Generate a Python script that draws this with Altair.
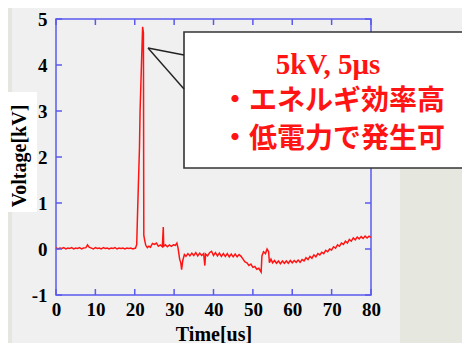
import altair as alt
import pandas as pd

# ---- data ----
TIME = [0, 0.5, 1, 1.5, 2, 2.5, 3, 3.5, 4, 4.5, 5, 5.5, 6, 6.5, 7, 7.6, 8, 8.4, 9, 9.5,
        10, 10.5, 11, 11.5, 12, 12.5, 13, 13.5, 14, 14.5, 15, 15.5, 16, 16.5, 17, 17.5,
        18, 18.5, 19, 19.5, 20.2, 20.5, 20.7, 20.9, 21.2, 21.35, 21.7, 22.0, 22.2, 22.3,
        22.5, 22.8, 23.2, 23.6, 24, 24.5, 25, 25.5, 26, 26.5, 27.0, 27.25, 27.35, 27.8,
        28.3, 28.8, 29.3, 29.8, 30.3, 30.7, 31.0, 31.4, 31.7, 31.9, 32.2, 32.6, 33, 33.5,
        34, 34.5, 35, 35.5, 36, 36.5, 37, 37.5, 37.8, 38.0, 38.5, 39, 39.5, 40, 40.5, 41,
        41.5, 42, 42.5, 43, 43.5, 44, 44.5, 45, 45.5, 46, 46.5, 47, 47.5, 48, 48.5, 49,
        49.5, 50, 50.5, 51, 51.5, 52.1, 52.3, 52.7, 53.2, 53.6, 54.0, 54.2, 54.6, 55, 55.5,
        56, 56.5, 57, 57.5, 58, 58.5, 59, 59.5, 60, 60.5, 61, 61.5, 62, 62.5, 63, 63.5, 64,
        64.5, 65, 65.5, 66, 66.5, 67, 67.5, 68, 68.5, 69, 69.5, 70, 70.5, 71, 71.5, 72,
        72.5, 73, 73.5, 74, 74.5, 75, 75.5, 76, 76.5, 77, 77.5, 78, 78.5, 79, 79.5, 80]
VOLT = [0.03, 0.0, 0.02, 0.01, 0.03, 0.0, 0.02, 0.01, 0.03, 0.0, 0.02, 0.01, 0.03, 0.0,
        0.02, 0.03, 0.09, 0.04, 0.02, 0.0, 0.03, 0.01, 0.02, 0.0, 0.03, 0.01, 0.02, 0.0,
        0.02, 0.01, 0.03, 0.0, 0.02, 0.01, 0.02, 0.0, 0.02, 0.01, 0.02, 0.0, 0.02, 0.1,
        0.74, 1.33, 2.2, 2.98, 4.0, 4.83, 4.7, 0.3, 0.2, 0.08, 0.03, 0.06, 0.04, 0.12, 0.1,
        0.13, 0.06, 0.09, 0.05, 0.48, 0.06, 0.09, 0.05, 0.09, 0.06, 0.09, 0.08, 0.13, 0.02,
        -0.22, -0.3, -0.45, -0.25, -0.12, -0.16, -0.1, -0.15, -0.09, -0.14, -0.08, -0.15,
        -0.09, -0.14, -0.1, -0.36, -0.11, -0.15, -0.08, -0.05, -0.14, -0.08, -0.15, -0.09,
        -0.16, -0.1, -0.16, -0.1, -0.17, -0.11, -0.17, -0.11, -0.17, -0.12, -0.16, -0.22,
        -0.28, -0.3, -0.36, -0.33, -0.4, -0.38, -0.44, -0.42, -0.5, -0.15, -0.06, -0.1,
        0.0, -0.06, -0.3, -0.22, -0.3, -0.25, -0.31, -0.26, -0.32, -0.26, -0.31, -0.26,
        -0.31, -0.25, -0.3, -0.25, -0.29, -0.24, -0.29, -0.23, -0.26, -0.19, -0.23, -0.16,
        -0.2, -0.13, -0.17, -0.1, -0.13, -0.07, -0.1, -0.03, -0.06, 0.0, -0.02, 0.05, 0.02,
        0.09, 0.06, 0.13, 0.1, 0.17, 0.13, 0.21, 0.17, 0.24, 0.2, 0.26, 0.22, 0.27, 0.23,
        0.28, 0.24, 0.28, 0.25]

X_TICKS = [0, 10, 20, 30, 40, 50, 60, 70, 80]
Y_TICKS = [-1, 0, 1, 2, 3, 4, 5]
X_TITLE = "Time[us]"
Y_TITLE = "Voltage[kV]"
CALLOUT_LINES = ["5kV, 5μs", "・エネルギ効率高", "・低電力で発生可"]

# ---- layout (pixels) ----
W, H = 315, 276
FRAME = "#5a5aee"
RED = "#ff1414"
SERIF = "Liberation Serif"
CJK = "Noto Sans CJK JP"

trace_df = pd.DataFrame({"t": TIME, "v": VOLT})
xt_df = pd.DataFrame({"t": X_TICKS})
yt_df = pd.DataFrame({"v": Y_TICKS})
one = pd.DataFrame({"a": [0]})

xscale = alt.Scale(domain=[0, 80], nice=False, zero=False)
yscale = alt.Scale(domain=[-1, 5], nice=False, zero=False)

label_style = dict(labelFont=SERIF, labelFontWeight="bold", labelFontSize=19,
                   labelColor="black", labelOverlap=False, labelFlush=False,
                   labelBound=False, labelExpr="'' + datum.value", grid=False,
                   domain=False, ticks=False, tickSize=0)
xaxis = alt.Axis(values=X_TICKS, title=X_TITLE, labelPadding=5, titleFont=SERIF,
                 titleFontWeight="bold", titleFontSize=20, titleColor="black",
                 titlePadding=5, **label_style)
yaxis = alt.Axis(values=Y_TICKS, title=None, labelPadding=9, **label_style)
X_ENC = alt.X("t:Q", scale=xscale, axis=xaxis)
Y_ENC = alt.Y("v:Q", scale=yscale, axis=yaxis)

# background decorations
green_strip = alt.Chart(one).mark_rect(color="#e6e7de").encode(
    x=alt.value(344), x2=alt.value(407), y=alt.value(149), y2=alt.value(340))
left_strip = alt.Chart(one).mark_rect(color="#e6e6e0").encode(
    x=alt.value(-48), x2=alt.value(-44), y=alt.value(-20), y2=alt.value(340))
ytitle_box = alt.Chart(one).mark_rect(color="white").encode(
    x=alt.value(-49), x2=alt.value(-19), y=alt.value(73), y2=alt.value(193))
ytitle = alt.Chart(one).mark_text(
    text=Y_TITLE, angle=270, font=SERIF, fontWeight="bold", fontSize=20,
    color="black", align="center", baseline="middle").encode(
    x=alt.value(-36), y=alt.value(137))

trace = alt.Chart(trace_df).mark_line(color=RED, strokeWidth=1.5).encode(
    x=X_ENC, y=Y_ENC, order="t:Q")

# inward ticks on all four sides
tick_style = dict(color=FRAME, strokeWidth=1.5)
xt_bottom = alt.Chart(xt_df).mark_rule(**tick_style).encode(
    x=X_ENC, y=alt.value(H), y2=alt.value(H - 6))
xt_top = alt.Chart(xt_df).mark_rule(**tick_style).encode(
    x=X_ENC, y=alt.value(0), y2=alt.value(6))
yt_left = alt.Chart(yt_df).mark_rule(**tick_style).encode(
    y=Y_ENC, x=alt.value(0), x2=alt.value(6))
yt_right = alt.Chart(yt_df).mark_rule(**tick_style).encode(
    y=Y_ENC, x=alt.value(W), x2=alt.value(W - 6))

# callout
box = alt.Chart(one).mark_rect(fill="white", stroke="#333333", strokeWidth=1.6).encode(
    x=alt.value(128), x2=alt.value(600), y=alt.value(13), y2=alt.value(149))
ptr_df = pd.DataFrame({"px": [92, 128, 131], "py": [29, 36, 36], "py2": [29, 70, 70]})
pointer = alt.Chart(ptr_df).mark_area(color="white", opacity=1).encode(
    x=alt.X("px:Q", scale=None), y=alt.Y("py:Q", scale=None),
    y2="py2:Q", order="px:Q")
edge1 = alt.Chart(one).mark_rule(color="#222222", strokeWidth=1.4).encode(
    x=alt.value(128), y=alt.value(36), x2=alt.value(92), y2=alt.value(29))
edge2 = alt.Chart(one).mark_rule(color="#222222", strokeWidth=1.4).encode(
    x=alt.value(92), y=alt.value(29), x2=alt.value(128), y2=alt.value(70))

line1 = alt.Chart(one).mark_text(
    text=CALLOUT_LINES[0], font=SERIF, fontWeight="bold", fontSize=29, color=RED,
    align="center", baseline="middle").encode(x=alt.value(272), y=alt.value(46))
line2 = alt.Chart(one).mark_text(
    text=CALLOUT_LINES[1], font=CJK, fontWeight="bold", fontSize=28, color=RED,
    align="center", baseline="middle").encode(x=alt.value(277), y=alt.value(83))
line3 = alt.Chart(one).mark_text(
    text=CALLOUT_LINES[2], font=CJK, fontWeight="bold", fontSize=28, color=RED,
    align="center", baseline="middle").encode(x=alt.value(277), y=alt.value(121))

chart = alt.layer(
    green_strip, left_strip, ytitle_box, ytitle, trace,
    xt_bottom, xt_top, yt_left, yt_right,
    box, pointer, edge1, edge2, line1, line2, line3
).properties(
    width=W, height=H,
    autosize=alt.AutoSizeParams(type="none"),
    padding={"left": 48, "top": 11, "right": 91, "bottom": 48},
    background="#f0f0f0",
).configure_view(
    stroke=FRAME, strokeWidth=1.5
)

chart.save("out.html", embed_options={"renderer": "svg", "actions": False})
